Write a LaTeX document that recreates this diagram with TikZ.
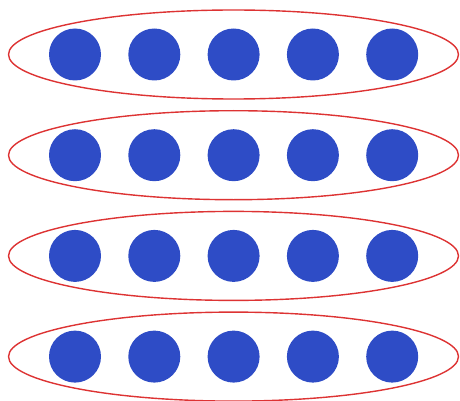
\documentclass[tikz,border=0pt]{standalone}
\begin{document}
\begin{tikzpicture}[x=1pt,y=-1pt,
  dot/.style={circle,fill=dotblue,draw=none,minimum size=52pt,inner sep=0pt},
  ring/.style={draw=ringred,line width=1.4pt}]
\definecolor{dotblue}{HTML}{2E4CC6}
\definecolor{ringred}{HTML}{DD3333}
\useasboundingbox (0,0) rectangle (460,401);
\foreach \r in {0,1,2,3}{
  \pgfmathsetmacro{\cy}{54.5+100.7*\r}
  \draw[ring] (233.5,\cy) ellipse [x radius=225pt, y radius=44.5pt];
  \foreach \c in {0,1,2,3,4}{
    \node[dot] (d\r\c) at ({75+79.3*\c},\cy) {};
  }
}
\end{tikzpicture}
\end{document}
